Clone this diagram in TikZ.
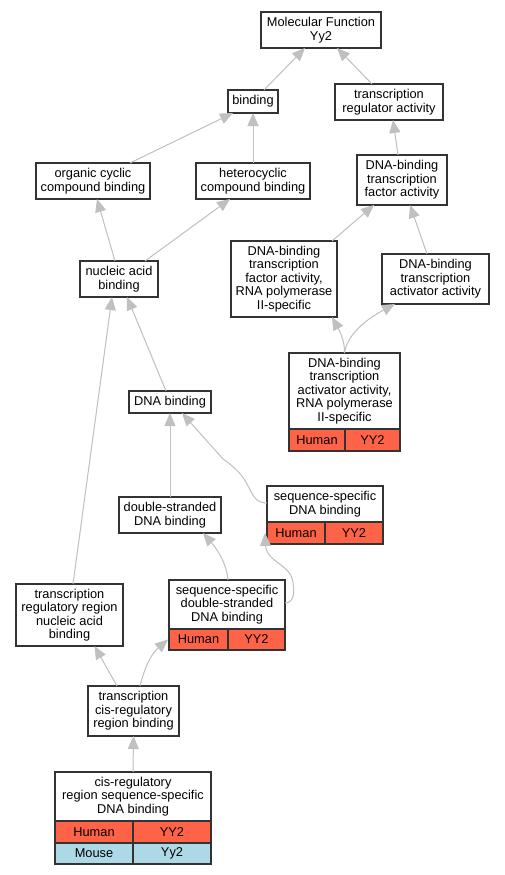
\documentclass[tikz,border=0pt]{standalone}
\usepackage{fontspec}
\setmainfont{Liberation Sans}
\usetikzlibrary{arrows.meta,calc}
\definecolor{hum}{HTML}{FF6347}
\definecolor{mou}{HTML}{ADD8E6}
\definecolor{edg}{HTML}{C0C0C0}
\definecolor{bdr}{HTML}{333333}
\begin{document}
\begin{tikzpicture}[x=1pt,y=-1pt,
  box/.style={draw=bdr, line width=1.1pt, fill=white, inner sep=0pt, outer sep=0pt,
    align=center, rectangle, font=\fontsize{12.8}{13.4}\selectfont},
  hcell/.style={box, fill=hum, anchor=north west},
  mcell/.style={box, fill=mou, anchor=north west},
  edge/.style={draw=edg, line width=1pt, -{Triangle[length=13pt,width=11pt]}}]
\useasboundingbox[fill=white] (0,0) rectangle (505,875);

% nodes
\node[box, minimum width=120, minimum height=36] (n1) at (321,30) {Molecular Function\\Yy2};
\node[box, minimum width=50, minimum height=23] (n2) at (253,101.5) {binding};
\node[box, minimum width=108, minimum height=36] (n3) at (389,102) {transcription\\regulator activity};
\node[box, minimum width=114, minimum height=36] (n4) at (93,181) {organic cyclic\\compound binding};
\node[box, minimum width=114, minimum height=36] (n5) at (253,181) {heterocyclic\\compound binding};
\node[box, minimum width=90, minimum height=50] (n6) at (402,180) {DNA-binding\\transcription\\factor activity};
\node[box, minimum width=78, minimum height=36] (n7) at (119,279) {nucleic acid\\binding};
\node[box, minimum width=106, minimum height=76] (n8) at (284,279) {DNA-binding\\transcription\\factor activity,\\RNA polymerase\\II-specific};
\node[box, minimum width=107, minimum height=50] (n9) at (435.5,279) {DNA-binding\\transcription\\activator activity};
\node[box, minimum width=111, minimum height=76] (n10) at (344.5,391) {DNA-binding\\transcription\\activator activity,\\RNA polymerase\\II-specific};
\node[hcell, minimum width=56, minimum height=22] (n10a) at (n10.south west) {Human};
\node[hcell, minimum width=55, minimum height=22] (n10b) at (n10a.north east) {YY2};
\node[box, minimum width=82, minimum height=22] (n11) at (170,402) {DNA binding};
\node[box, minimum width=102, minimum height=36] (n12) at (170,515) {double-stranded\\DNA binding};
\node[box, minimum width=116, minimum height=36] (n13) at (325,504) {sequence-specific\\DNA binding};
\node[hcell, minimum width=58, minimum height=22] (n13a) at (n13.south west) {Human};
\node[hcell, minimum width=58, minimum height=22] (n13b) at (n13a.north east) {YY2};
\node[box, minimum width=107, minimum height=62] (n14) at (69.5,615) {transcription\\regulatory region\\nucleic acid\\binding};
\node[box, minimum width=116, minimum height=49] (n15) at (227,604.5) {sequence-specific\\double-stranded\\DNA binding};
\node[hcell, minimum width=59, minimum height=21] (n15a) at (n15.south west) {Human};
\node[hcell, minimum width=57, minimum height=21] (n15b) at (n15a.north east) {YY2};
\node[box, minimum width=91, minimum height=50] (n16) at (133.5,711) {transcription\\cis-regulatory\\region binding};
\node[box, minimum width=156, minimum height=49] (n17) at (133,796.5) {cis-regulatory\\region sequence-specific\\DNA binding};
\node[hcell, minimum width=78, minimum height=22] (n17a) at (n17.south west) {Human};
\node[hcell, minimum width=78, minimum height=22] (n17b) at (n17a.north east) {YY2};
\node[mcell, minimum width=78, minimum height=21] (n17c) at (n17a.south west) {Mouse};
\node[mcell, minimum width=78, minimum height=21] (n17d) at (n17c.north east) {Yy2};

% edges
\draw[edge] ($(n2.north)+(11,0)$) -- ($(n1.south)+(-16,0)$);
\draw[edge] ($(n3.north)+(-17,0)$) -- ($(n1.south)+(16,0)$);
\draw[edge] ($(n4.north)+(37,0)$) -- ($(n2.south)+(-20,0)$);
\draw[edge] (n5.north) -- (n2.south);
\draw[edge] ($(n6.north)+(-4,0)$) -- ($(n3.south)+(4,0)$);
\draw[edge] ($(n7.north)+(-4,0)$) -- ($(n4.south)+(4,0)$);
\draw[edge] ($(n7.north)+(26,0)$) -- ($(n5.south)+(-23,0)$);
\draw[edge] ($(n8.north)+(48,0)$) -- ($(n6.south)+(-28,0)$);
\draw[edge] ($(n9.north)+(-8.5,0)$) -- ($(n6.south)+(8,0)$);
\draw[edge] (n10.north) .. controls (345,340) and (338,328) .. ($(n8.south)+(48,0)$);
\draw[edge] (n10.north) .. controls (347,335) and (365,320) .. ($(n9.south)+(-40.5,0)$);
\draw[edge] ($(n11.north)+(-4,0)$) -- ($(n7.south)+(8,0)$);
\draw[edge] ($(n14.north)+(3.5,0)$) -- ($(n7.south)+(-7,0)$);
\draw[edge] (n12.north) -- (n11.south);
\draw[edge] ($(n13.west)+(0,-1)$) .. controls (255,503) and (253,495) .. (247,484)
   .. controls (243,476) and (236,468) .. (223,459) -- ($(n11.south)+(12,0)$);
\draw[edge] ($(n15.north)+(1,0)$) .. controls (227,565) and (218,550) .. ($(n12.south)+(33,0)$);
\draw[edge] ($(n15.east)+(0,-1.5)$) .. controls (295,603) and (295,590) .. (292,578)
   .. controls (288,565) and (266,560) .. ($(n13a.west)+(-2,0)$);
\draw[edge] ($(n16.north)+(-16.5,0)$) -- ($(n14.south)+(25,0)$);
\draw[edge] ($(n16.north)+(6.5,0)$) .. controls (144,670) and (150,655) .. ($(n15a.west)+(-1,0)$);
\draw[edge] (n17.north) -- (n16.south);
\end{tikzpicture}
\end{document}
